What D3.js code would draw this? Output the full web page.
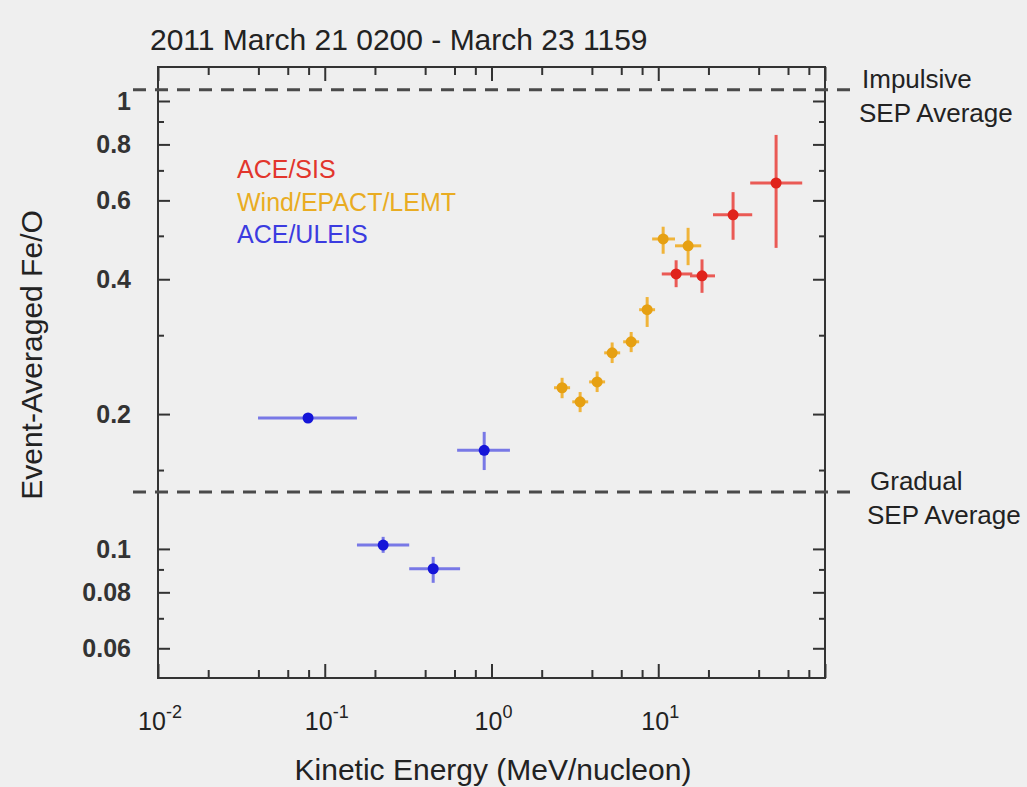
<!DOCTYPE html>
<html>
<head>
<meta charset="utf-8">
<script src="https://cdn.jsdelivr.net/npm/d3@7"></script>
<style>
  body { margin: 0; background: #efefef; }
  svg { display: block; font-family: "Liberation Sans", Arial, sans-serif; }
</style>
</head>
<body>
<svg id="chart" width="1027" height="787"></svg>
<script>
// ACE/SIS
var sisE    = [12.8, 18.3, 28.1, 50.9];
var sisELo  = [10.5, 15.5, 21.3, 35.6];
var sisEHi  = [16.0, 21.9, 36.6, 73.0];
var sisR    = [0.411, 0.407, 0.557, 0.656];
var sisRLo  = [0.384, 0.373, 0.490, 0.470];
var sisRHi  = [0.441, 0.443, 0.626, 0.840];

// Wind/EPACT/LEMT
var windE   = [2.65, 3.40, 4.30, 5.29, 6.88, 8.58, 10.7, 15.1];
var windELo = [2.37, 3.05, 3.85, 4.74, 6.16, 7.68, 9.19, 12.6];
var windEHi = [2.96, 3.80, 4.80, 5.91, 7.68, 9.57, 12.6, 18.1];
var windR   = [0.229, 0.213, 0.236, 0.274, 0.290, 0.342, 0.492, 0.475];
var windRLo = [0.217, 0.202, 0.224, 0.260, 0.275, 0.313, 0.456, 0.430];
var windRHi = [0.241, 0.224, 0.249, 0.289, 0.305, 0.365, 0.524, 0.521];

// ACE/ULEIS
var uleisE   = [0.0794, 0.224, 0.447, 0.904];
var uleisELo = [0.0398, 0.156, 0.321, 0.622];
var uleisEHi = [0.156, 0.321, 0.648, 1.29];
var uleisR   = [0.196, 0.102, 0.0903, 0.166];
var uleisRLo = [0.193, 0.098, 0.084, 0.150];
var uleisRHi = [0.199, 0.1064, 0.096, 0.1825];

// reference averages
var refNames  = [["Impulsive", "SEP Average"], ["Gradual", "SEP Average"]];
var refValues = [1.06, 0.134];

var xMajor = [0.01, 0.1, 1, 10, 100];
var xMinor = [0.02, 0.04, 0.06, 0.08, 0.2, 0.4, 0.6, 0.8, 2, 4, 6, 8, 20, 40, 60, 80];
var xExp   = [-2, -1, 0, 1];
var yMajor = [1, 0.8, 0.6, 0.4, 0.2, 0.1, 0.08, 0.06];
var yMinor = [0.9, 0.7, 0.5, 0.3, 0.15, 0.09, 0.07];
var yLabels = ["1", "0.8", "0.6", "0.4", "0.2", "0.1", "0.08", "0.06"];

var legendNames = ["ACE/SIS", "Wind/EPACT/LEMT", "ACE/ULEIS"];

var pLeft = 158, pRight = 825, pTop = 67, pBottom = 678;

var svg = d3.select("#chart");
svg.append("rect").attr("width", 1027).attr("height", 787).attr("fill", "#efefef");

var x = d3.scaleLog().domain([0.01, 100]).range([pLeft, pRight]);
var y = d3.scaleLog().domain([0.0515, 1.191]).range([pBottom, pTop]);

// title
svg.append("text")
  .attr("x", 150).attr("y", 50)
  .attr("font-size", 30).attr("fill", "#222")
  .text("2011 March 21 0200 - March 23 1159");

// axes, ticks pointing inward
function tickAxis(axis, pos, values, len) {
  svg.append("g")
    .attr("transform", pos)
    .call(axis.tickValues(values).tickSize(len).tickFormat(""))
    .call(function(g) {
      g.select(".domain").remove();
      g.selectAll("line").attr("stroke", "#333").attr("stroke-width", 2);
    });
}
tickAxis(d3.axisBottom(x), "translate(0," + pBottom + ")", xMajor, -14);
tickAxis(d3.axisBottom(x), "translate(0," + pBottom + ")", xMinor, -8);
tickAxis(d3.axisTop(x), "translate(0," + pTop + ")", xMajor, -14);
tickAxis(d3.axisTop(x), "translate(0," + pTop + ")", xMinor, -8);
tickAxis(d3.axisLeft(y), "translate(" + pLeft + ",0)", yMajor, -12);
tickAxis(d3.axisLeft(y), "translate(" + pLeft + ",0)", yMinor, -6);
tickAxis(d3.axisRight(y), "translate(" + pRight + ",0)", yMajor, -12);
tickAxis(d3.axisRight(y), "translate(" + pRight + ",0)", yMinor, -6);

svg.append("rect")
  .attr("x", pLeft).attr("y", pTop)
  .attr("width", pRight - pLeft).attr("height", pBottom - pTop)
  .attr("fill", "none").attr("stroke", "#333").attr("stroke-width", 2);

// x tick labels with superscripts
var xl = svg.append("g").selectAll("text")
  .data(xExp).enter().append("text")
  .attr("x", function(d) { return x(Math.pow(10, d)) + 2; })
  .attr("y", 730)
  .attr("text-anchor", "middle")
  .attr("font-size", 25).attr("fill", "#222");
xl.append("tspan").text("10");
xl.append("tspan").attr("dy", -12).attr("font-size", 18).text(function(d) { return d; });

// y tick labels
svg.append("g").selectAll("text")
  .data(yMajor).enter().append("text")
  .attr("x", 131)
  .attr("y", function(d) { return y(d) + 9; })
  .attr("text-anchor", "end")
  .attr("font-size", 25).attr("font-weight", "bold")
  .attr("fill", "#333")
  .text(function(d, i) { return yLabels[i]; });

// axis titles
svg.append("text")
  .attr("x", 493).attr("y", 780)
  .attr("text-anchor", "middle")
  .attr("font-size", 30).attr("fill", "#222")
  .text("Kinetic Energy (MeV/nucleon)");

svg.append("text")
  .attr("transform", "translate(42,355) rotate(-90)")
  .attr("text-anchor", "middle")
  .attr("font-size", 30).attr("fill", "#222")
  .text("Event-Averaged Fe/O");

// dashed reference lines
svg.append("g").selectAll("line")
  .data(refValues).enter().append("line")
  .attr("x1", 133).attr("x2", 852)
  .attr("y1", function(d) { return y(d); })
  .attr("y2", function(d) { return y(d); })
  .attr("stroke", "#4a4a4a").attr("stroke-width", 3)
  .attr("stroke-dasharray", "13,9");

refNames.forEach(function(lines, i) {
  var t = svg.append("text")
    .attr("x", i === 0 ? 862 : 870)
    .attr("y", y(refValues[i]) - 2)
    .attr("font-size", 26).attr("fill", "#222");
  t.append("tspan").text(lines[0]);
  t.append("tspan").attr("x", i === 0 ? 859 : 867).attr("dy", 34).text(lines[1]);
});

// error bars + points
function series(E, ELo, EHi, R, RLo, RHi, dotColor, barColor) {
  var rows = E.map(function(e, i) {
    return { e: e, elo: ELo[i], ehi: EHi[i], r: R[i], rlo: RLo[i], rhi: RHi[i] };
  });
  var g = svg.append("g");
  g.selectAll(".hbar").data(rows).enter().append("line")
    .attr("x1", function(d) { return x(d.elo); })
    .attr("x2", function(d) { return x(d.ehi); })
    .attr("y1", function(d) { return y(d.r); })
    .attr("y2", function(d) { return y(d.r); })
    .attr("stroke", barColor).attr("stroke-width", 3);
  g.selectAll(".vbar").data(rows).enter().append("line")
    .attr("x1", function(d) { return x(d.e); })
    .attr("x2", function(d) { return x(d.e); })
    .attr("y1", function(d) { return y(d.rlo); })
    .attr("y2", function(d) { return y(d.rhi); })
    .attr("stroke", barColor).attr("stroke-width", 3);
  g.selectAll("circle").data(rows).enter().append("circle")
    .attr("cx", function(d) { return x(d.e); })
    .attr("cy", function(d) { return y(d.r); })
    .attr("r", 5.5)
    .attr("fill", dotColor);
}
series(uleisE, uleisELo, uleisEHi, uleisR, uleisRLo, uleisRHi, "#1515d8", "#7878e6");
series(windE, windELo, windEHi, windR, windRLo, windRHi, "#e6a012", "#f0b43a");
series(sisE, sisELo, sisEHi, sisR, sisRLo, sisRHi, "#e0231c", "#ea5a55");

// legend
var legendColors = ["#e2352c", "#e9ac22", "#3b3be0"];
svg.append("g").selectAll("text")
  .data(legendNames).enter().append("text")
  .attr("x", 237)
  .attr("y", function(d, i) { return 178 + i * 32.5; })
  .attr("font-size", 25)
  .attr("fill", function(d, i) { return legendColors[i]; })
  .text(function(d) { return d; });
</script>
</body>
</html>
